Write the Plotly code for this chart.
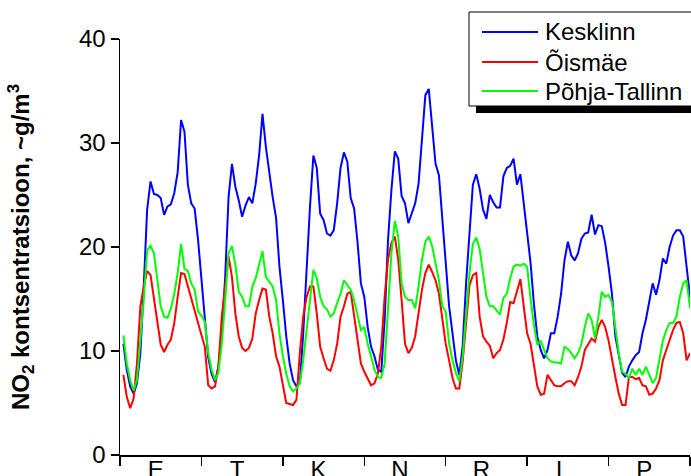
import plotly.graph_objects as go

# ---------------- data ----------------
day_labels = ["E", "T", "K", "N", "R", "L", "P"]
hours = list(range(1, 169))
series_names = ["Kesklinn", "Õismäe", "Põhja-Tallinn"]

kesklinn = [
    10.7, 8.2, 6.6, 5.9, 6.9, 9.8, 16.2, 23.6, 26.3, 25.1, 25.0, 24.7, 23.1, 23.9, 24.1, 25.2, 27.2, 32.2, 31.1, 26.0, 24.2, 23.7, 20.7, 17.1,
    13.3, 9.4, 7.8, 7.0, 8.5, 11.7, 17.1, 24.8, 28.0, 25.8, 24.5, 22.9, 24.0, 24.8, 24.2, 26.1, 28.8, 32.8, 29.6, 27.1, 24.8, 22.8, 18.1, 14.9,
    11.4, 8.8, 7.2, 6.6, 6.9, 11.7, 18.0, 23.9, 28.8, 27.6, 23.2, 22.6, 21.3, 21.1, 21.6, 24.2, 27.6, 29.1, 28.2, 24.7, 23.7, 20.5, 16.5, 15.2,
    12.3, 10.4, 9.5, 8.2, 8.0, 13.0, 20.7, 25.5, 29.2, 28.5, 24.9, 24.2, 22.3, 23.3, 24.2, 26.1, 30.0, 34.6, 35.2, 31.6, 28.0, 26.9, 22.8, 18.7,
    14.3, 11.7, 9.1, 7.7, 10.5, 16.5, 21.5, 26.0, 27.0, 25.6, 23.6, 22.7, 25.0, 24.3, 23.8, 23.8, 26.8, 27.6, 27.8, 28.5, 26.0, 27.0, 24.2, 21.0,
    18.5, 14.5, 11.4, 10.1, 9.3, 10.1, 11.7, 11.7, 13.3, 15.5, 18.7, 20.5, 19.2, 18.7, 19.4, 20.8, 21.3, 21.4, 23.1, 21.2, 22.1, 22.0, 20.4, 18.1,
    15.5, 11.4, 9.8, 7.9, 7.5, 8.5, 9.1, 9.6, 9.9, 11.7, 13.0, 14.7, 16.5, 15.4, 16.8, 18.9, 18.4, 20.0, 21.1, 21.6, 21.6, 21.0, 17.8, 15.2,
]

oismae = [
    7.7, 5.6, 4.5, 5.4, 8.8, 14.3, 16.2, 17.7, 17.3, 15.2, 12.8, 10.6, 9.9, 10.6, 11.1, 12.7, 15.2, 17.5, 17.4, 16.3, 15.2, 13.9, 12.7, 11.5,
    10.4, 6.7, 6.4, 6.6, 8.5, 13.3, 16.2, 19.1, 17.1, 13.6, 11.4, 10.3, 10.0, 10.3, 11.2, 13.6, 14.9, 16.0, 15.9, 13.3, 11.7, 9.5, 8.5, 6.6,
    5.0, 4.9, 4.8, 5.3, 9.8, 13.3, 15.2, 16.2, 16.2, 13.6, 10.4, 9.3, 8.3, 8.1, 9.1, 10.7, 13.3, 14.3, 15.5, 15.7, 13.3, 11.1, 8.8, 8.0,
    7.4, 6.7, 6.9, 7.8, 10.4, 15.2, 18.8, 20.4, 21.0, 18.8, 14.9, 10.7, 9.8, 10.3, 11.4, 13.6, 15.9, 17.5, 18.3, 17.6, 16.8, 15.5, 12.9, 10.7,
    9.1, 7.4, 6.4, 6.4, 9.0, 13.0, 16.3, 17.3, 17.5, 13.3, 11.4, 10.9, 10.5, 9.3, 9.8, 10.1, 11.1, 12.7, 14.7, 14.6, 15.7, 16.9, 14.3, 11.7,
    10.7, 8.5, 6.6, 5.8, 5.9, 7.7, 7.2, 6.7, 6.6, 6.6, 6.9, 7.1, 7.1, 6.7, 7.5, 8.5, 10.1, 10.7, 11.2, 10.9, 12.3, 13.0, 12.3, 11.0,
    9.1, 7.5, 5.9, 4.8, 4.8, 7.5, 7.5, 7.3, 7.4, 6.7, 6.6, 5.8, 5.9, 6.4, 7.2, 9.1, 10.1, 11.1, 12.0, 12.7, 12.8, 11.7, 9.1, 9.8,
]

pohja_tallinn = [
    11.5, 8.8, 7.2, 6.2, 7.2, 11.0, 14.9, 19.7, 20.1, 19.4, 17.1, 14.3, 13.3, 13.2, 14.1, 15.5, 17.5, 20.3, 17.9, 17.7, 16.5, 15.9, 13.8, 13.4,
    12.8, 9.8, 8.2, 7.2, 7.9, 10.7, 14.9, 19.4, 20.1, 18.3, 15.7, 15.2, 14.3, 14.3, 16.2, 17.0, 18.3, 19.6, 17.1, 16.7, 16.2, 14.9, 11.7, 9.5,
    7.8, 6.6, 6.1, 6.4, 6.9, 9.1, 12.0, 15.5, 17.8, 17.0, 15.2, 14.3, 14.0, 13.3, 13.6, 14.6, 15.5, 16.8, 16.3, 15.9, 14.9, 13.3, 12.0, 12.3,
    10.7, 9.5, 8.2, 7.5, 7.4, 8.8, 13.6, 19.4, 22.5, 21.0, 16.5, 15.2, 14.9, 14.9, 14.1, 16.2, 18.8, 20.5, 21.0, 20.1, 18.4, 16.8, 14.3, 13.8,
    10.7, 9.1, 7.9, 7.1, 9.5, 13.5, 17.5, 20.3, 20.9, 19.8, 17.3, 15.2, 14.3, 14.3, 13.9, 13.5, 15.1, 15.5, 17.0, 18.1, 18.3, 18.2, 18.4, 18.1,
    15.0, 12.5, 10.6, 11.0, 10.1, 9.3, 9.0, 8.9, 8.9, 8.8, 10.4, 10.2, 9.8, 9.3, 9.8, 10.7, 12.3, 13.6, 13.0, 11.2, 13.3, 15.7, 15.2, 15.4,
    14.7, 12.3, 9.8, 8.0, 7.8, 7.4, 8.3, 7.7, 8.3, 7.7, 8.5, 7.7, 6.9, 7.4, 9.1, 11.0, 12.0, 12.7, 12.7, 13.3, 15.2, 16.5, 16.8, 14.1,
]

y_ticks = [0, 10, 20, 30, 40]

# ---------------- layout constants ----------------
W, H = 691, 476
ML, MT = 120, 39
PW, PH = 570, 416
MR, MB = W - ML - PW, H - MT - PH
FONT = "Liberation Sans, Arial, Helvetica, sans-serif"
colors = ["#0000FF", "#FF0000", "#00FF00"]


def px_x(sx):
    """figure pixel x -> paper x"""
    return (sx - ML) / PW


def px_y(sy):
    """figure pixel y -> paper y"""
    return 1 - (sy - MT) / PH


fig = go.Figure()
for name, vals, col in zip(series_names, [kesklinn, oismae, pohja_tallinn], colors):
    fig.add_trace(go.Scatter(x=hours, y=vals, mode="lines", name=name,
                             line=dict(color=col, width=2), showlegend=False,
                             hoverinfo="skip"))

n_days = len(day_labels)
day_len = 24
label_pos = [d * day_len + day_len / 2 - 1.5 for d in range(n_days)]
day_edges = [d * day_len for d in range(n_days + 1)]

fig.update_layout(
    width=W, height=H, autosize=False,
    margin=dict(l=ML, r=MR, t=MT, b=MB, pad=0),
    paper_bgcolor="white", plot_bgcolor="white",
    font=dict(family=FONT, color="black", size=24),
    showlegend=False,
    xaxis=dict(
        range=[0, n_days * day_len], showgrid=False, zeroline=False, automargin=False,
        showline=True, linecolor="black", linewidth=1.5,
        tickmode="array", tickvals=label_pos, ticktext=day_labels,
        ticks="", ticklabelstandoff=-7, tickfont=dict(size=24, family=FONT),
        minor=dict(tickmode="array", tickvals=day_edges, ticks="outside",
                   ticklen=9, tickwidth=1.5, tickcolor="black", showgrid=False),
    ),
    yaxis=dict(
        range=[0, 40], showgrid=False, zeroline=False, automargin=False,
        showline=True, linecolor="black", linewidth=1.5,
        tickmode="array", tickvals=y_ticks,
        ticks="outside", ticklen=8, tickwidth=1.5, tickcolor="black",
        tickfont=dict(size=24, family=FONT),
        title=dict(text="<b>NO<sub>2</sub> kontsentratsioon, ~g/m<sup>3</sup></b>",
                   font=dict(size=24, family=FONT), standoff=42),
    ),
)

# ---------------- legend (boxed with drop shadow) ----------------
box_l, box_t, box_b = 469, 12, 106
fig.add_shape(type="rect", xref="paper", yref="paper",
              x0=px_x(box_l + 7), x1=px_x(W + 20), y0=px_y(box_b + 7), y1=px_y(box_b),
              fillcolor="black", line=dict(width=0), layer="above")
fig.add_shape(type="rect", xref="paper", yref="paper",
              x0=px_x(box_l), x1=px_x(W + 20), y0=px_y(box_b), y1=px_y(box_t),
              fillcolor="white", line=dict(color="black", width=1), layer="above")
rows = [32, 62, 91]
for name, col, ry in zip(series_names, colors, rows):
    fig.add_shape(type="line", xref="paper", yref="paper",
                  x0=px_x(482), x1=px_x(538), y0=px_y(ry), y1=px_y(ry),
                  line=dict(color=col, width=2), layer="above")
    fig.add_annotation(xref="paper", yref="paper", x=px_x(543), y=px_y(ry),
                       xanchor="left", yanchor="middle", showarrow=False,
                       text=name, font=dict(size=24, family=FONT, color="black"))

# remove the browser's default 8px page margin so the figure fills the window exactly
page_fix = ("document.body.style.margin='0';"
            "document.documentElement.style.overflow='hidden';"
            "document.body.style.overflow='hidden';")
fig.write_html("out.html", post_script=page_fix,
               config={"displayModeBar": False, "staticPlot": True})
